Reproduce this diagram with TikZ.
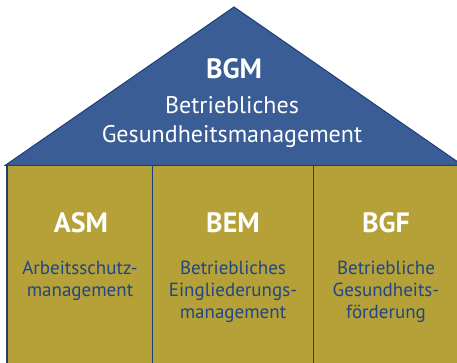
\documentclass[tikz,border=0pt]{standalone}
\usepackage{fontspec}
\setmainfont{PT Sans}
\definecolor{roofblue}{HTML}{3A5D95}
\definecolor{edgeblue}{HTML}{1E3F7C}
\definecolor{pillargold}{HTML}{B5A137}
\definecolor{textblue}{HTML}{1F4689}
\begin{document}
\begin{tikzpicture}[x=1pt,y=-1pt,
  title/.style={anchor=base,inner sep=0pt,text=white,font=\fontsize{28}{32}\selectfont\bfseries},
  rooftext/.style={anchor=base,inner sep=0pt,text=white,font=\fontsize{24}{28}\selectfont},
  coltext/.style={anchor=base,inner sep=0pt,text=textblue,font=\fontsize{19}{22}\selectfont}]
\useasboundingbox (0,0) rectangle (457,363);
% pillars
\fill[pillargold] (7,165) rectangle (460,366);
\draw[edgeblue,line width=1.2pt] (7,165) -- (7,366);
\draw[edgeblue,line width=1.2pt] (152.5,165) -- (152.5,366);
\draw[edgeblue,line width=1.2pt] (313.8,165) -- (313.8,366);
% roof
\fill[roofblue,draw=edgeblue,line width=1pt,line join=miter] (5,165.5) -- (234,7) -- (463,165.5) -- cycle;
% roof text
\node[title] (bgm) at (234,79) {BGM};
\node[rooftext] (bgm1) at (232,114) {Betriebliches};
\node[rooftext] (bgm2) at (232,143) {Gesundheitsmanagement};
% pillar headings
\node[title] (asm) at (81,233) {ASM};
\node[title] (bem) at (233,233) {BEM};
\node[title] (bgf) at (386,233) {BGF};
% pillar texts
\node[coltext] (asm1) at (80,274) {Arbeitsschutz-};
\node[coltext] (asm2) at (80,296) {management};
\node[coltext] (bem1) at (233,274) {Betriebliches};
\node[coltext] (bem2) at (233,296) {Eingliederungs-};
\node[coltext] (bem3) at (233,318) {management};
\node[coltext] (bgf1) at (386,274) {Betriebliche};
\node[coltext] (bgf2) at (386,296) {Gesundheits-};
\node[coltext] (bgf3) at (386,318) {förderung};
\end{tikzpicture}
\end{document}
